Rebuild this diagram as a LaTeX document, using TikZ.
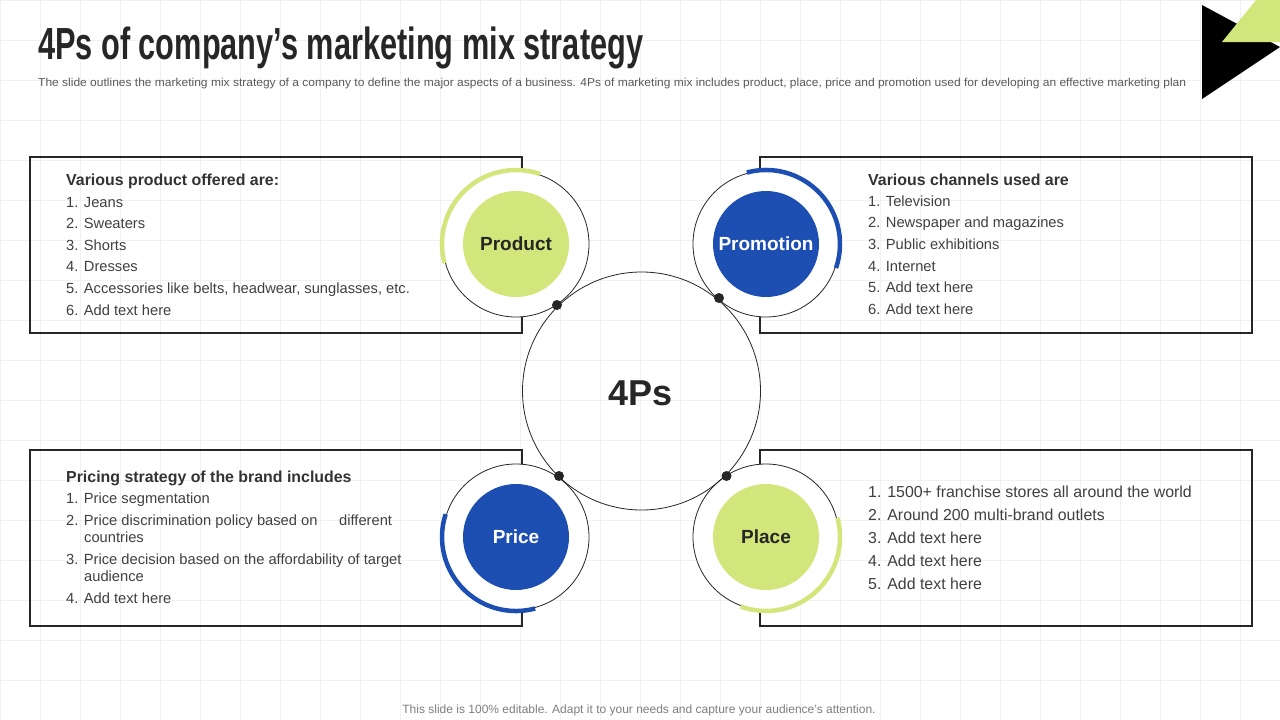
\documentclass[tikz,border=0pt]{standalone}
\usepackage{fontspec}
\setmainfont{Liberation Sans}
\usepackage{graphicx}
\definecolor{pgreen}{HTML}{D3E67B}
\definecolor{pblue}{HTML}{1D4FB3}
\definecolor{headc}{HTML}{333333}
\definecolor{itemc}{HTML}{404040}
\definecolor{linec}{HTML}{262626}
\definecolor{gridc}{HTML}{F1F1F1}
\definecolor{subc}{HTML}{595959}
\definecolor{footc}{HTML}{7F7F7F}
\begin{document}
\begin{tikzpicture}[x=1pt,y=-1pt,
  panel/.style={draw=linec, line width=1.1pt, inner sep=0pt, minimum width=492pt, minimum height=176pt},
  ring/.style={circle, draw=linec, line width=0.8pt, fill=white, inner sep=0pt, minimum size=146pt},
  core/.style={circle, inner sep=0pt, minimum size=106pt, font=\fontsize{19}{19}\selectfont\bfseries, text height=13.6pt, text depth=0pt},
  hub/.style={circle, draw=linec, line width=0.8pt, inner sep=0pt, minimum size=238pt},
  dot/.style={circle, fill=linec, inner sep=0pt, minimum size=10pt},
  head/.style={anchor=base west, inner sep=0pt, text=headc, font=\fontsize{15.9}{18}\selectfont\bfseries},
  item/.style={anchor=base west, inner sep=0pt, text=itemc, font=\fontsize{14.7}{17}\selectfont},
  bitem/.style={anchor=base west, inner sep=0pt, text=itemc, font=\fontsize{15.9}{18}\selectfont},
  arcband/.style={line width=4.5pt}
]
\useasboundingbox (0,0) rectangle (1280,720);
\fill[white] (0,0) rectangle (1280,720);
% faint grid
\foreach \gx in {0,40,...,1280} \draw[gridc, line width=0.7pt] (\gx,0) -- (\gx,720);
\foreach \gy in {0,40,...,720} \draw[gridc, line width=0.7pt] (0,\gy) -- (1280,\gy);

% corner decoration
\fill[black] (1202,5) -- (1202,99) -- (1280,47) -- cycle;
\fill[pgreen] (1256,0) -- (1280,0) -- (1280,42) -- (1222,42) -- cycle;

% title and subtitle
\node[anchor=base west, inner sep=0pt, text=linec] (title) at (38,59)
  {\resizebox{605pt}{\height}{\fontsize{45}{45}\selectfont\bfseries 4Ps of company’s marketing mix strategy}};
\node[anchor=base west, inner sep=0pt, text=subc] (subtitle) at (38,86)
  {\resizebox{1148pt}{\height}{\fontsize{11.5}{12}\selectfont The slide outlines the marketing mix strategy of a company to define the major aspects of a business. 4Ps of marketing mix includes product, place, price and promotion used for developing an effective marketing plan}};

% panels
\node[panel] (boxTL) at (276,245) {};
\node[panel] (boxTR) at (1006,245) {};
\node[panel] (boxBL) at (276,538) {};
\node[panel] (boxBR) at (1006,538) {};

% rings
\node[ring] (prodR) at (516,244) {};
\node[ring] (promR) at (766,244) {};
\node[ring] (priceR) at (516,537) {};
\node[ring] (placeR) at (766,537) {};

% hub circle
\node[hub] (hub) at (641.5,391) {};
\node[inner sep=0pt, text=linec, font=\fontsize{36}{36}\selectfont\bfseries, text height=25.8pt, text depth=0pt] (hubT) at (640.5,392.5) {4Ps};

% coloured arcs (y axis points down: page angle a -> tikz angle -a)
\draw[arcband, pgreen] (prodR.center) ++(-195:74) arc[start angle=-195, end angle=-71, radius=74];
\draw[arcband, pblue] (promR.center) ++(-105:74) arc[start angle=-105, end angle=19, radius=74];
\draw[arcband, pblue] (priceR.center) ++(-285:74) arc[start angle=-285, end angle=-162, radius=74];
\draw[arcband, pgreen] (placeR.center) ++(-15:74) arc[start angle=-15, end angle=110, radius=74];

% inner discs
\node[core, fill=pgreen, text=black!85] (prod) at (prodR.center) {Product};
\node[core, fill=pblue, text=white] (prom) at (promR.center) {Promotion};
\node[core, fill=pblue, text=white] (price) at (priceR.center) {Price};
\node[core, fill=pgreen, text=black!85] (place) at (placeR.center) {Place};

% contact dots
\node[dot] (d1) at (557,305) {};
\node[dot] (d2) at (719,298) {};
\node[dot] (d3) at (559,476) {};
\node[dot] (d4) at (726.5,476) {};

% top-left text
\node[head] (tlh) at (66,185) {Various product offered are:};
\node[item] (tl1) at (66,207) {1. Jeans};
\node[item] (tl2) at (66,228.6) {2. Sweaters};
\node[item] (tl3) at (66,250.2) {3. Shorts};
\node[item] (tl4) at (66,271.8) {4. Dresses};
\node[item] (tl5) at (66,293.4) {5. Accessories like belts, headwear, sunglasses, etc.};
\node[item] (tl6) at (66,315) {6. Add text here};

% top-right text
\node[head] (trh) at (868,185) {Various channels used are};
\node[item] (tr1) at (868,206) {1. Television};
\node[item] (tr2) at (868,227.7) {2. Newspaper and magazines};
\node[item] (tr3) at (868,249.4) {3. Public exhibitions};
\node[item] (tr4) at (868,271) {4. Internet};
\node[item] (tr5) at (868,292.7) {5. Add text here};
\node[item] (tr6) at (868,314.4) {6. Add text here};

% bottom-left text
\node[head] (blh) at (66,482) {Pricing strategy of the brand includes};
\node[item] (bl1) at (66,503.3) {1. Price segmentation};
\node[item] (bl2) at (66,525) {2. Price discrimination policy based on};
\node[item] (bl2b) at (339,525) {different};
\node[item] (bl2c) at (84,542.7) {countries};
\node[item] (bl3) at (66,564.3) {3. Price decision based on the affordability of target};
\node[item] (bl3c) at (84,581.5) {audience};
\node[item] (bl4) at (66,603) {4. Add text here};

% bottom-right text
\node[bitem] (br1) at (868,497) {1. 1500+ franchise stores all around the world};
\node[bitem] (br2) at (868,520) {2. Around 200 multi-brand outlets};
\node[bitem] (br3) at (868,543) {3. Add text here};
\node[bitem] (br4) at (868,566) {4. Add text here};
\node[bitem] (br5) at (868,589) {5. Add text here};

% footer
\node[anchor=base, inner sep=0pt, text=footc, font=\fontsize{12}{14}\selectfont] (foot) at (639,713)
  {This slide is 100\% editable. Adapt it to your needs and capture your audience’s attention.};
\end{tikzpicture}
\end{document}
